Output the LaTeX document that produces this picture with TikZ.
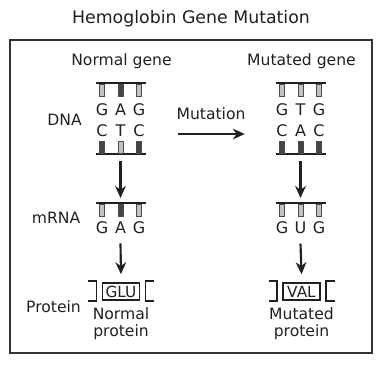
\documentclass[tikz,border=0pt]{standalone}
\usepackage{fontspec}
\setmainfont{DejaVu Sans}
\usetikzlibrary{arrows.meta,positioning}
\definecolor{ink}{HTML}{202020}
\definecolor{framegray}{HTML}{333333}
\definecolor{basedark}{HTML}{444444}
\definecolor{baselight}{HTML}{C2C2C2}
\tikzset{
  headline/.style={font=\fontsize{13}{15}\selectfont,text=ink,inner sep=0pt},
  lbl/.style={font=\fontsize{11.7}{12.8}\selectfont,text=ink,inner sep=0pt,align=center},
  base/.style={font=\fontsize{12}{14}\selectfont,text=ink,inner sep=0pt},
  backbone/.style={draw=ink,line width=1.9pt},
  tooth/.style={draw=black!70,line width=0.5pt},
  framebox/.style={draw=framegray,line width=1.5pt},
  flowarr/.style={-{Stealth[length=9pt,width=8pt]},line width=1.6pt,draw=ink},
  bracket/.style={draw=ink,line width=1.4pt},
  aabox/.style={draw=ink,line width=1.1pt,minimum width=27.5pt,minimum height=12.8pt,
                inner sep=1pt,font=\fontsize{11.5}{13}\selectfont,text=ink}
}

\begin{document}
\begin{tikzpicture}[x=0.75pt,y=-0.75pt]
  \useasboundingbox (0,0) rectangle (384,364);
  \node[headline] (head) at (191,19) {Hemoglobin Gene Mutation};
  \draw[framebox] (10,39.5) rectangle (371.5,353);

  % column heads and row labels
  \node[lbl] (normal) at (121.5,61.5) {Normal gene};
  \node[lbl] (mutated) at (301.5,61.5) {Mutated gene};
  \node[lbl] (dna) at (64.5,120) {DNA};
  \node[lbl] (mrna) at (56,218) {mRNA};
  \node[lbl] (prot) at (53.5,307) {Protein};

  % strands: backbone with base teeth (s=1 teeth below, s=-1 above)
  \foreach \cx/\yb/\s/\ca/\cb/\cc/\n in {
      120.5/83/1/baselight/basedark/baselight/NTop,
      120.5/154/-1/basedark/baselight/basedark/NLo,
      120.5/203/1/baselight/basedark/baselight/NRna,
      300.5/83/1/baselight/baselight/baselight/MTop,
      300.5/154/-1/basedark/basedark/basedark/MLo,
      300.5/203/1/baselight/baselight/baselight/MRna} {
    \coordinate (bar\n) at (\cx,\yb);
    \draw[backbone] ({\cx-25},\yb) -- ({\cx+25},\yb);
    \foreach \dx/\c in {-18.5/\ca,0/\cb,18.5/\cc}
      \draw[tooth,fill=\c] ({\cx+\dx-2.4},{\yb+\s}) rectangle ++(4.8,{12*\s});
  }

  % base letters
  \foreach \t [count=\i] in {G,A,G}
    \node[base] (nTop\i) at ({120.5+18.5*(\i-2)},110) {\t};
  \foreach \t [count=\i] in {C,T,C}
    \node[base] (nBot\i) at ({120.5+18.5*(\i-2)},131) {\t};
  \foreach \t [count=\i] in {G,A,G}
    \node[base] (nRna\i) at ({120.5+18.5*(\i-2)},228) {\t};
  \foreach \t [count=\i] in {G,T,G}
    \node[base] (mTop\i) at ({300.5+18.5*(\i-2)},110) {\t};
  \foreach \t [count=\i] in {C,A,C}
    \node[base] (mBot\i) at ({300.5+18.5*(\i-2)},131) {\t};
  \foreach \t [count=\i] in {G,U,G}
    \node[base] (mRna\i) at ({300.5+18.5*(\i-2)},228) {\t};

  % proteins
  \node[aabox] (glu) at (121,291.5) {GLU};
  \node[aabox] (val) at (301.5,291.5) {VAL};
  \foreach \cx in {121,301.5} {
    \draw[bracket] ({\cx-33},281) -| ({\cx-24.5},301) -- ({\cx-33},301);
    \draw[bracket] ({\cx+33},281) -| ({\cx+24.5},301) -- ({\cx+33},301);
  }
  \node[lbl] (protN) at (121,323.5) {Normal\\protein};
  \node[lbl] (protM) at (301.5,323.5) {Mutated\\protein};

  % mutation arrow
  \node[lbl] (mutlbl) at (211,113.5) {Mutation};
  \draw[flowarr] ([shift={(25pt,-2.25pt)}]nBot3.east) -- ([shift={(-23.5pt,-2.25pt)}]mBot1.west);

  % transcription and translation arrows
  \draw[flowarr] ([yshift=-5.25pt]barNLo) -- ([yshift=3.75pt]barNRna);
  \draw[flowarr] ([yshift=-5.25pt]barMLo) -- ([yshift=3.75pt]barMRna);
  \draw[flowarr] ([yshift=-7pt]nRna2.south) -- ([yshift=6pt]glu.north);
  \draw[flowarr] ([yshift=-7pt]mRna2.south) -- ([yshift=6pt]val.north);
\end{tikzpicture}
\end{document}
